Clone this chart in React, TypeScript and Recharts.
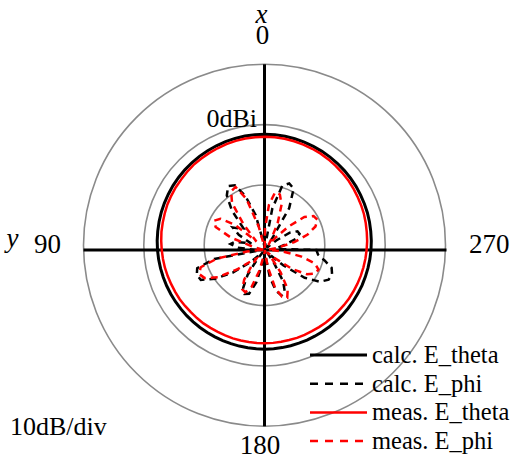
import { RadarChart, Radar, PolarGrid, PolarAngleAxis, PolarRadiusAxis, Legend } from 'recharts';

// angle in degrees, counted counter-clockwise from x (top)
const angles = [
  0, 5, 10, 15, 20, 25, 30, 35, 40, 45, 50, 55, 60, 65, 70, 75, 80, 85,
  90, 95, 100, 105, 110, 115, 120, 125, 130, 135, 140, 145, 150, 155, 160, 165, 170, 175,
  180, 185, 190, 195, 200, 205, 210, 215, 220, 225, 230, 235, 240, 245, 250, 255, 260, 265,
  270, 275, 280, 285, 290, 295, 300, 305, 310, 315, 320, 325, 330, 335, 340, 345, 350, 355,
];

// dBi
const calcTheta = [
  -0.86, -0.86, -0.88, -0.91, -0.94, -0.99, -1.04, -1.11, -1.18, -1.26, -1.35, -1.44, -1.55, -1.65, -1.76, -1.88, -2.0, -2.11,
  -2.23, -2.35, -2.47, -2.59, -2.7, -2.81, -2.92, -3.02, -3.11, -3.2, -3.28, -3.36, -3.42, -3.47, -3.52, -3.56, -3.58, -3.6,
  -3.6, -3.62, -3.62, -3.62, -3.61, -3.58, -3.55, -3.5, -3.44, -3.38, -3.3, -3.22, -3.14, -3.04, -2.93, -2.83, -2.72, -2.6,
  -2.48, -2.36, -2.25, -2.12, -1.99, -1.88, -1.77, -1.64, -1.54, -1.44, -1.34, -1.25, -1.17, -1.1, -1.03, -0.97, -0.92, -0.88,
];
const calcPhi = [
  -20, -20, -19, -14, -10.5, -8.2, -7.8, -9.0, -11.5, -15, -14.5, -13.5, -15, -17.5, -16.5, -14.8, -14.2, -15.5,
  -18.5, -19, -11.5, -8.4, -8.0, -8.3, -10.5, -13.5, -17, -19.5, -18, -15, -12.8, -12, -12.3, -14.5, -18, -20,
  -20, -19, -15.5, -13, -12, -12.2, -14, -17.5, -19.5, -19, -16, -12, -9.5, -8.4, -8.2, -8.6, -10, -11.2,
  -11.5, -18, -18, -16.5, -14.5, -13.7, -13.8, -15, -17.5, -19, -19.5, -19, -12, -8.8, -8.3, -9.0, -13, -19,
];
const measTheta = [
  -1.27, -1.28, -1.3, -1.33, -1.37, -1.45, -1.52, -1.57, -1.63, -1.76, -1.9, -1.98, -2.1, -2.2, -2.36, -2.5, -2.62, -2.78,
  -2.93, -3.07, -3.2, -3.35, -3.5, -3.62, -3.72, -3.87, -4.0, -4.09, -4.17, -4.28, -4.38, -4.42, -4.46, -4.52, -4.55, -4.57,
  -4.58, -4.59, -4.6, -4.59, -4.55, -4.53, -4.5, -4.43, -4.34, -4.28, -4.2, -4.09, -3.96, -3.86, -3.74, -3.6, -3.48, -3.34,
  -3.2, -3.05, -2.92, -2.76, -2.6, -2.47, -2.35, -2.2, -2.05, -1.95, -1.84, -1.72, -1.61, -1.54, -1.47, -1.4, -1.34, -1.3,
];
const measPhi = [
  -16.5, -19.5, -19.5, -16, -11, -8.5, -8.8, -10.5, -14.5, -18, -13.5, -11, -10.3, -11, -14, -18, -19.5, -20,
  -19, -17, -12, -9.0, -8.4, -9.0, -11, -14.5, -17.5, -18, -16.5, -14, -12.5, -12.3, -13.5, -16.5, -19.5, -20,
  -20, -19, -17, -13.5, -11.8, -11.3, -12.5, -15.5, -18.5, -19.5, -18, -14.5, -12, -10.8, -10.6, -11.5, -14, -17,
  -19, -19.5, -18, -15, -12.5, -10.8, -10, -10.2, -11.5, -14.5, -17.5, -19, -18, -15, -12, -10.5, -10.3, -12.5,
];

const angleTicks = [0, 90, 180, 270];
const radiusDomain = [-20, 10];

const data = angles.map((angle, i) => ({
  angle,
  calcTheta: calcTheta[i],
  calcPhi: calcPhi[i],
  measTheta: measTheta[i],
  measPhi: measPhi[i],
}));

const SERIES = [
  { key: 'calcTheta', name: 'calc. E_theta', color: '#000000', width: 3, dash: undefined },
  { key: 'calcPhi', name: 'calc. E_phi', color: '#000000', width: 2.5, dash: '7 5' },
  { key: 'measTheta', name: 'meas. E_theta', color: '#ff0000', width: 2.5, dash: undefined },
  { key: 'measPhi', name: 'meas. E_phi', color: '#ff0000', width: 2.5, dash: '7 5' },
];

const FONT = '"Liberation Serif", "Times New Roman", serif';
const W = 510;
const H = 456;

const TICK_POS: Record<number, { dx: number; dy: number; anchor: 'start' | 'middle' | 'end' }> = {
  0: { dx: -2.5, dy: -16.5, anchor: 'middle' },
  90: { dx: -14.5, dy: 3, anchor: 'end' },
  180: { dx: -5, dy: 14.5, anchor: 'middle' },
  270: { dx: 14.5, dy: 3, anchor: 'start' },
};

function AngleTick(props: any) {
  const { x, y, payload } = props;
  const pos = TICK_POS[payload.value];
  if (!pos) return <g />;
  return (
    <text x={x + pos.dx} y={y + pos.dy} textAnchor={pos.anchor} fontFamily={FONT} fontSize={27} fill="#000">
      {payload.value}
    </text>
  );
}

function LegendBox() {
  return (
    <svg width={202} height={115}>
      {SERIES.map((s, i) => {
        const y = 14 + i * 28.7;
        return (
          <g key={s.key}>
            <line x1={2} x2={59} y1={y} y2={y} stroke={s.color} strokeWidth={s.width} strokeDasharray={s.dash ? '8 7' : undefined} />
            <text x={64} y={y + 8} fontFamily={FONT} fontSize={24.5} fill="#000">{s.name}</text>
          </g>
        );
      })}
    </svg>
  );
}

const noMargin = { top: 0, right: 0, bottom: 0, left: 0 };

export default function App() {
  // absolute at the page origin so the 8px body margin adds no scrollbar
  return (
    <div style={{ position: 'absolute', left: 0, top: 0, width: W, height: H, overflow: 'hidden' }}>
      {/* grid rings and vertical axis */}
      <div style={{ position: 'absolute', left: 0, top: 0 }}>
        <RadarChart width={W} height={H} data={data} cx={264.5} cy={245.3} outerRadius={181} margin={noMargin}
          startAngle={90} endAngle={450}>
          <PolarGrid gridType="circle" radialLines={false} polarRadius={[60.3, 120.7, 181]} polarAngles={[90, 270]}
            stroke="#8a8a8a" strokeWidth={1.6} />
          <PolarGrid gridType="circle" polarRadius={[]} polarAngles={[90, 270]} stroke="#000" strokeWidth={3} />
        </RadarChart>
      </div>
      {/* patterns */}
      <div style={{ position: 'absolute', left: 0, top: 0 }}>
        <RadarChart width={W} height={H} data={data} cx={265} cy={250} outerRadius={181.5} margin={noMargin}
          startAngle={90} endAngle={450}>
          <PolarGrid gridType="circle" polarRadius={[]} polarAngles={[0, 180]} stroke="#000" strokeWidth={3} />
          <PolarAngleAxis dataKey="angle" type="number" domain={[0, 360]} ticks={angleTicks} tickCount={5}
            tick={<AngleTick />} tickLine={false} axisLine={false} tickSize={0} />
          <PolarRadiusAxis type="number" domain={radiusDomain} tick={false} axisLine={false} />
          {SERIES.map(s => (
            <Radar
              key={s.key}
              dataKey={s.key}
              name={s.name}
              stroke={s.color}
              strokeWidth={s.width}
              strokeDasharray={s.dash}
              fill="none"
              fillOpacity={0}
              dot={false}
              isAnimationActive={false}
            />
          ))}
          <Legend content={<LegendBox />} wrapperStyle={{ left: 308, top: 341, width: 202, height: 115 }} />
          <text x={261.5} y={23} textAnchor="middle" fontFamily={FONT} fontSize={27} fontStyle="italic">x</text>
          <text x={12.5} y={247} textAnchor="middle" fontFamily={FONT} fontSize={27} fontStyle="italic">y</text>
          <text x={231.7} y={126.7} textAnchor="middle" fontFamily={FONT} fontSize={26}>0dBi</text>
          <text x={10} y={435} fontFamily={FONT} fontSize={26}>10dB/div</text>
        </RadarChart>
      </div>
    </div>
  );
}
